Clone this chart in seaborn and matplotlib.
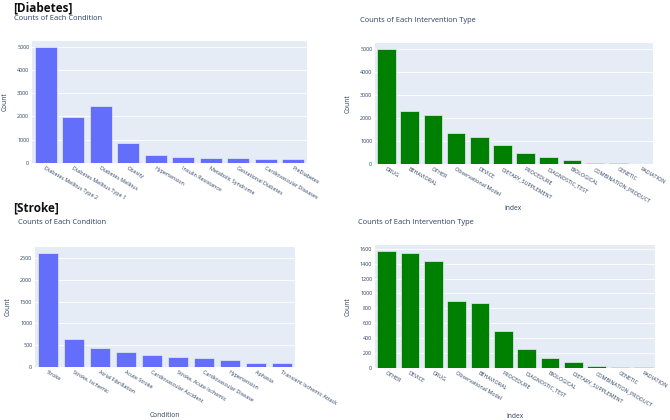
import seaborn as sns
import matplotlib.pyplot as plt

# data
dia_cond = ['Diabetes Mellitus Type 2', 'Diabetes Mellitus Type 1', 'Diabetes Mellitus', 'Obesity',
            'Hypertension', 'Insulin Resistance', 'Metabolic Syndrome', 'Gestational Diabetes',
            'Cardiovascular Diseases', 'PreDiabetes']
dia_cond_n = [4970, 1970, 2470, 855, 340, 270, 214, 200, 186, 172]

dia_int = ['DRUG', 'BEHAVIORAL', 'OTHER', 'Observational Model', 'DEVICE', 'DIETARY_SUPPLEMENT',
           'PROCEDURE', 'DIAGNOSTIC_TEST', 'BIOLOGICAL', 'COMBINATION_PRODUCT', 'GENETIC', 'RADIATION']
dia_int_n = [4990, 2305, 2145, 1335, 1160, 812, 478, 304, 188, 58, 22, 15]

str_cond = ['Stroke', 'Stroke, Ischemic', 'Atrial Fibrillation', 'Acute Stroke', 'Cardiovascular Accident',
            'Stroke, Acute Ischemic', 'Cardiovascular Disease', 'Hypertension', 'Aphasia',
            'Transient Ischemic Attack']
str_cond_n = [2606, 636, 424, 333, 265, 235, 205, 152, 98, 91]

str_int = ['OTHER', 'DEVICE', 'DRUG', 'Observational Model', 'BEHAVIORAL', 'PROCEDURE', 'DIAGNOSTIC_TEST',
           'BIOLOGICAL', 'DIETARY_SUPPLEMENT', 'COMBINATION_PRODUCT', 'GENETIC', 'RADIATION']
str_int_n = [1564, 1546, 1429, 899, 876, 503, 252, 135, 81, 27, 18, 13]

TXT = '#2a3f5f'
BG = '#E5ECF6'
plt.rcParams['font.family'] = ['Open Sans', 'DejaVu Sans']

fig = plt.figure(figsize=(6.7, 4.2), dpi=100)
W, H = 670, 420


def box(x0, y0, x1, y1):
    return [x0 / W, 1 - y1 / H, (x1 - x0) / W, (y1 - y0) / H]


def panel(rect, cats, vals, color, ticks, xlabel=None):
    ax = fig.add_axes(rect)
    sns.barplot(x=cats, y=vals, color=color, width=0.8, saturation=1,
                edgecolor=BG, linewidth=0.5, ax=ax)
    ax.set_facecolor(BG)
    ax.set_xlim(-0.5, len(cats) - 0.5)
    ax.set_ylim(0, max(vals) * 1.055)
    ax.set_yticks(ticks)
    ax.set_yticklabels([str(t) for t in ticks])
    ax.grid(axis='y', color='white', linewidth=0.6)
    ax.set_axisbelow(True)
    for s in ax.spines.values():
        s.set_visible(False)
    ax.tick_params(length=0, labelsize=3.9, colors=TXT, pad=2)
    plt.setp(ax.get_xticklabels(), rotation=-30, ha='left', rotation_mode='anchor')
    ax.set_ylabel('Count', fontsize=4.8, color=TXT, labelpad=6)
    if xlabel:
        ax.set_xlabel(xlabel, fontsize=4.8, color=TXT)
    else:
        ax.set_xlabel('')
    return ax


panel(box(32, 41, 307, 163), dia_cond, dia_cond_n, '#636EFA', range(0, 5001, 1000))
panel(box(375, 43, 653, 164), dia_int, dia_int_n, 'green', range(0, 5001, 1000))
panel(box(35, 247, 295, 367), str_cond, str_cond_n, '#636EFA', range(0, 2501, 500), 'Condition')
panel(box(375, 245, 655, 368), str_int, str_int_n, 'green', range(0, 1601, 200), 'index')

fig.text(513 / W, 1 - 209 / H, 'index', fontsize=4.8, color=TXT, ha='center', va='center')

fig.text(13 / W, 1 - 8 / H, '[Diabetes]', fontsize=8.5, fontweight='bold', color='#111111', va='center')
fig.text(14 / W, 1 - 18 / H, 'Counts of Each Condition', fontsize=5.4, color=TXT, va='center')
fig.text(360 / W, 1 - 20 / H, 'Counts of Each Intervention Type', fontsize=5.4, color=TXT, va='center')
fig.text(13 / W, 1 - 208 / H, '[Stroke]', fontsize=8.5, fontweight='bold', color='#111111', va='center')
fig.text(18 / W, 1 - 223 / H, 'Counts of Each Condition', fontsize=5.4, color=TXT, va='center')
fig.text(358 / W, 1 - 222 / H, 'Counts of Each Intervention Type', fontsize=5.4, color=TXT, va='center')

fig.savefig('out.png', dpi=100)
